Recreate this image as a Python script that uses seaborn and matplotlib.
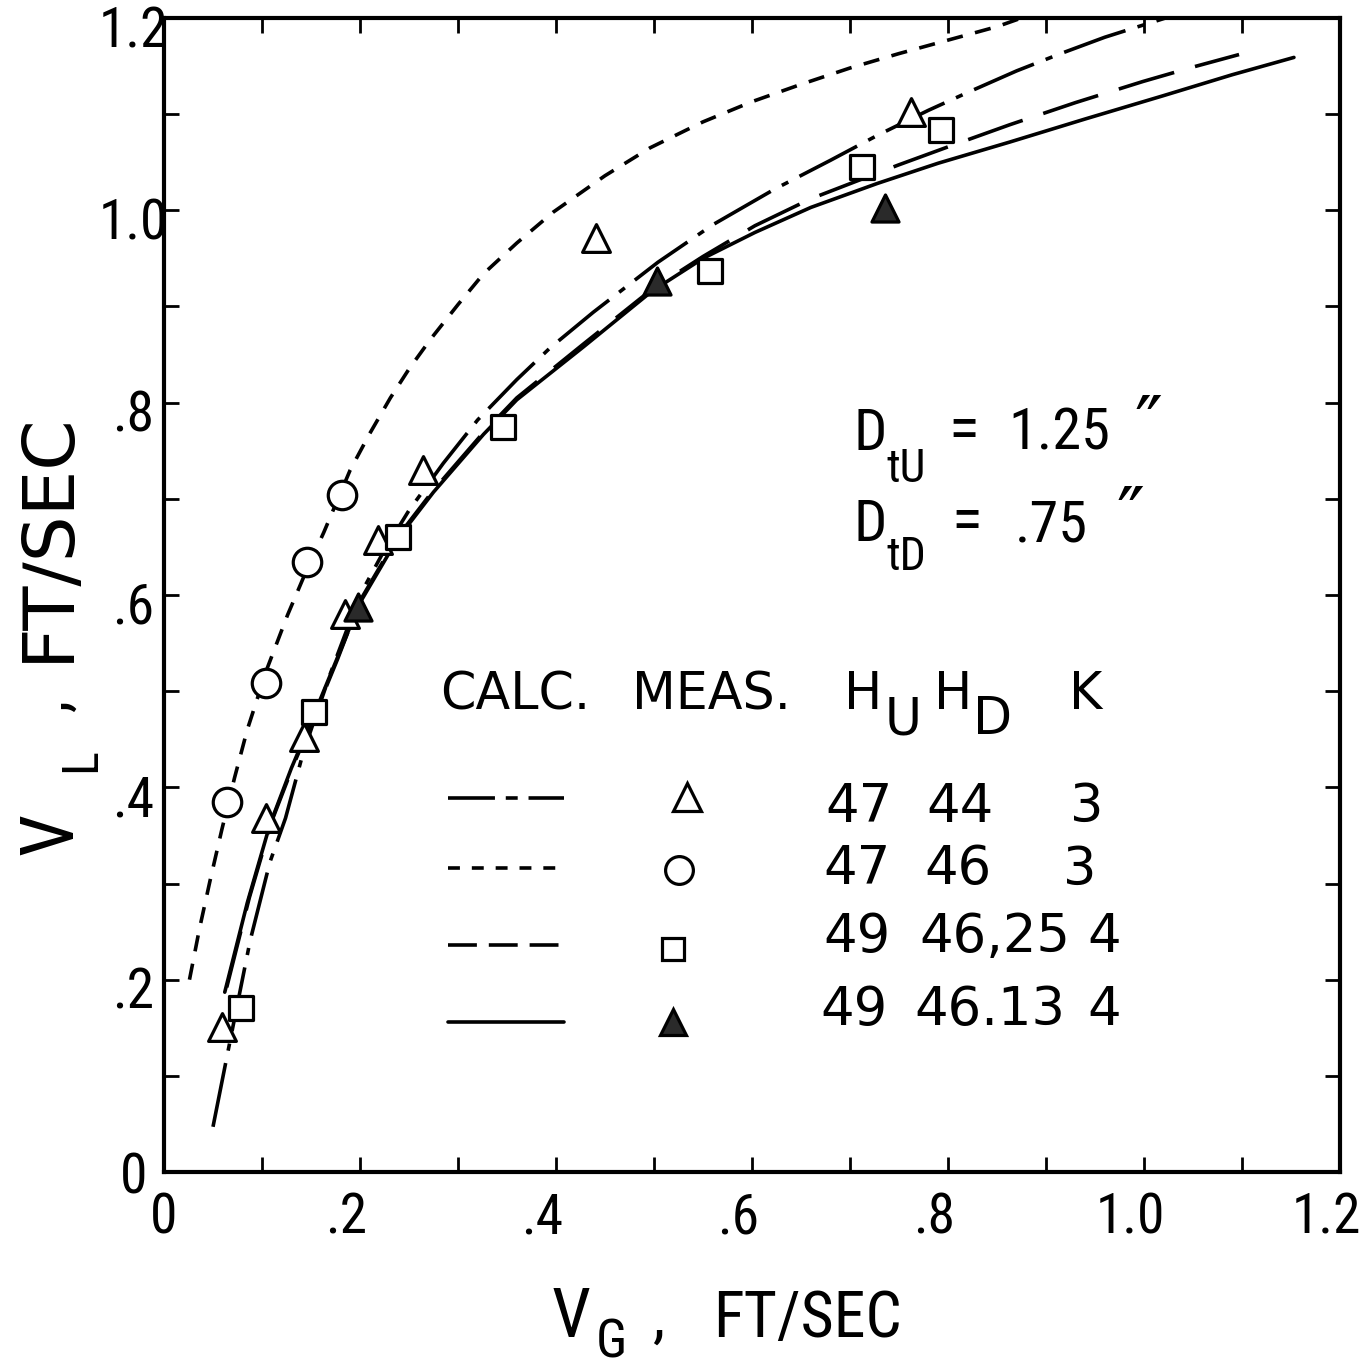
import matplotlib
matplotlib.use("Agg")
import matplotlib.pyplot as plt
from matplotlib.ticker import FixedLocator, FixedFormatter
from matplotlib.transforms import ScaledTranslation
import pandas as pd
import seaborn as sns

# ---- calculated curves: V_G (ft/sec) vs V_L (ft/sec) ----
calc1_vg = [0.050, 0.065, 0.088, 0.108, 0.124, 0.142, 0.170, 0.200, 0.224, 0.250, 0.285,
            0.320, 0.360, 0.394, 0.438, 0.504, 0.560, 0.623, 0.680, 0.728, 0.780, 0.821,
            0.870, 0.915, 0.960, 0.994, 1.022]
calc1_vl = [0.047, 0.124, 0.241, 0.322, 0.368, 0.436, 0.519, 0.600, 0.645, 0.688, 0.737,
            0.782, 0.824, 0.857, 0.894, 0.946, 0.985, 1.022, 1.052, 1.078, 1.104, 1.123,
            1.145, 1.163, 1.180, 1.191, 1.200]

calc2_vg = [0.026, 0.036, 0.047, 0.059, 0.072, 0.085, 0.105, 0.126, 0.146, 0.163, 0.190,
            0.210, 0.231, 0.250, 0.272, 0.300, 0.326, 0.360, 0.397, 0.450, 0.496, 0.550,
            0.600, 0.650, 0.700, 0.750, 0.800, 0.850, 0.875]
calc2_vl = [0.200, 0.252, 0.303, 0.356, 0.410, 0.460, 0.523, 0.579, 0.627, 0.665, 0.730,
            0.768, 0.805, 0.835, 0.866, 0.902, 0.934, 0.966, 0.998, 1.036, 1.065, 1.092,
            1.113, 1.131, 1.148, 1.163, 1.177, 1.191, 1.200]

calc3_vg = [0.064, 0.087, 0.110, 0.132, 0.152, 0.177, 0.200, 0.238, 0.275, 0.326, 0.360,
            0.428, 0.498, 0.550, 0.603, 0.660, 0.749, 0.800, 0.863, 0.930, 0.999, 1.050, 1.097]
calc3_vl = [0.192, 0.285, 0.365, 0.423, 0.471, 0.533, 0.594, 0.660, 0.709, 0.769, 0.805,
            0.861, 0.918, 0.952, 0.984, 1.012, 1.047, 1.066, 1.089, 1.112, 1.134, 1.149, 1.162]

calc4_vg = [0.062, 0.085, 0.108, 0.130, 0.150, 0.175, 0.200, 0.238, 0.275, 0.326, 0.360,
            0.428, 0.498, 0.550, 0.603, 0.660, 0.728, 0.790, 0.863, 0.940, 1.019, 1.090, 1.153]
calc4_vl = [0.187, 0.280, 0.361, 0.420, 0.468, 0.530, 0.592, 0.658, 0.707, 0.767, 0.803,
            0.858, 0.916, 0.950, 0.977, 1.003, 1.028, 1.049, 1.071, 1.095, 1.119, 1.141, 1.159]

# ---- measured points ----
meas1_vg = [0.059, 0.104, 0.143, 0.185, 0.218, 0.264, 0.441, 0.762]
meas1_vl = [0.151, 0.368, 0.452, 0.580, 0.657, 0.730, 0.971, 1.102]
meas2_vg = [0.064, 0.104, 0.146, 0.182]
meas2_vl = [0.385, 0.509, 0.634, 0.704]
meas3_vg = [0.079, 0.153, 0.239, 0.346, 0.557, 0.712, 0.793]
meas3_vl = [0.171, 0.478, 0.660, 0.775, 0.937, 1.045, 1.084]
meas4_vg = [0.198, 0.503, 0.736]
meas4_vl = [0.588, 0.926, 1.002]

# ---- run parameters shown in the key ----
h_up = ["47", "47", "49", "49"]
h_down = ["44", "46", "46,25", "46.13"]
k_vals = ["3", "3", "4", "4"]

tick_vals = [0.0, 0.2, 0.4, 0.6, 0.8, 1.0, 1.2]
tick_labels = ["0", ".2", ".4", ".6", ".8", "1.0", "1.2"]
minor_vals = [0.1, 0.3, 0.5, 0.7, 0.9, 1.1]

sns.set_theme(style="ticks")
NARROW = ["Roboto Condensed", "Liberation Sans Narrow", "Liberation Sans", "DejaVu Sans"]
WIDE = ["DejaVu Sans"]
plt.rcParams["font.family"] = NARROW
plt.rcParams["axes.linewidth"] = 3.0
for key in ("text.color", "axes.labelcolor", "xtick.color", "ytick.color", "axes.edgecolor"):
    plt.rcParams[key] = "black"

W, H = 1361, 1367
fig = plt.figure(figsize=(W / 100, H / 100), dpi=100)
fig.patch.set_facecolor("white")
ax = fig.add_axes([164 / W, 1 - 1172 / H, 1176 / W, 1154 / H])
ax.set_facecolor("white")
ax.set_xlim(0, 1.2)
ax.set_ylim(0, 1.2)

LW = 2.6
styles = [
    (calc1_vg, calc1_vl, (0, (18, 3.5, 2, 3.5))),
    (calc2_vg, calc2_vl, (0, (4.5, 3.5))),
    (calc3_vg, calc3_vl, (0, (16, 6))),
    (calc4_vg, calc4_vl, "-"),
]
for xs, ys, ls in styles:
    df = pd.DataFrame({"vg": xs, "vl": ys})
    sns.lineplot(data=df, x="vg", y="vl", ax=ax, color="black", lw=LW,
                 linestyle=ls, sort=False, estimator=None, zorder=2)

marker_specs = [
    (meas1_vg, meas1_vl, "^", 400, "white"),
    (meas2_vg, meas2_vl, "o", 420, "white"),
    (meas3_vg, meas3_vl, "s", 300, "white"),
    (meas4_vg, meas4_vl, "^", 380, "#2a2a2a"),
]
for xs, ys, mk, s, fc in marker_specs:
    df = pd.DataFrame({"vg": xs, "vl": ys})
    sns.scatterplot(data=df, x="vg", y="vl", ax=ax, marker=mk, s=s, color=fc,
                    edgecolor="black", linewidth=2.3, zorder=4)

# ---- axes, ticks ----
ax.xaxis.set_major_locator(FixedLocator(tick_vals))
ax.xaxis.set_major_formatter(FixedFormatter(tick_labels))
ax.yaxis.set_major_locator(FixedLocator(tick_vals))
ax.yaxis.set_major_formatter(FixedFormatter(tick_labels))
ax.xaxis.set_minor_locator(FixedLocator(minor_vals))
ax.yaxis.set_minor_locator(FixedLocator(minor_vals))
ax.tick_params(which="both", direction="in", length=11, width=2.0, color="black",
               top=True, right=True)
ax.tick_params(axis="x", which="major", labelsize=40, pad=14, labelcolor="black")
ax.tick_params(axis="y", which="major", labelsize=40, pad=22, labelcolor="black")
x_shift = ScaledTranslation(-14 / 100, 0, fig.dpi_scale_trans)
y_shift = ScaledTranslation(0, -8 / 100, fig.dpi_scale_trans)
for lbl in ax.get_xticklabels()[1:]:
    lbl.set_transform(lbl.get_transform() + x_shift)
for lbl in ax.get_yticklabels():
    lbl.set_horizontalalignment("center")
for lbl in ax.get_yticklabels()[1:]:
    lbl.set_transform(lbl.get_transform() + y_shift)
for sp in ax.spines.values():
    sp.set_visible(True)
    sp.set_color("black")
    sp.set_linewidth(3.0)
ax.set_xlabel("")
ax.set_ylabel("")

# ---- axis titles ----
fig.text(552 / W, 1 - 1337 / H, "V", fontsize=50, ha="left", va="baseline")
fig.text(596 / W, 1 - 1357 / H, "G", fontsize=38, ha="left", va="baseline")
fig.text(652 / W, 1 - 1337 / H, ",", fontsize=44, ha="left", va="baseline")
fig.text(713 / W, 1 - 1337 / H, "FT/SEC", fontsize=46, ha="left", va="baseline")

fig.text(72 / W, 1 - 855 / H, "V", fontsize=54, rotation=90,
         rotation_mode="anchor", ha="left", va="baseline")
fig.text(95 / W, 1 - 772 / H, "L", fontsize=36, rotation=90,
         rotation_mode="anchor", ha="left", va="baseline")
fig.text(68 / W, 1 - 712 / H, ",", fontsize=44, rotation=90,
         rotation_mode="anchor", ha="left", va="baseline")
fig.text(68 / W, 1 - 662 / H, "FT/SEC", fontsize=52, family=WIDE, rotation=90,
         rotation_mode="anchor", ha="left", va="baseline")

# ---- tube diameters ----
dkw = dict(ha="left", va="baseline", color="black")
ax.text(0.704, 0.751, "D", fontsize=42, **dkw)
ax.text(0.737, 0.717, "tU", fontsize=33, **dkw)
ax.text(0.800, 0.751, "=", fontsize=46, **dkw)
ax.text(0.862, 0.751, "1.25", fontsize=42, **dkw)
ax.text(0.990, 0.751, "\u2033", fontsize=54, family=WIDE, ha="left", va="baseline")
ax.text(0.704, 0.656, "D", fontsize=42, **dkw)
ax.text(0.737, 0.626, "tD", fontsize=33, **dkw)
ax.text(0.803, 0.656, "=", fontsize=46, **dkw)
ax.text(0.868, 0.656, ".75", fontsize=42, **dkw)
ax.text(0.972, 0.656, "\u2033", fontsize=54, family=WIDE, ha="left", va="baseline")

# ---- key table ----
tkw = dict(family=WIDE, ha="left", va="baseline", color="black")
ax.text(0.282, 0.481, "CALC.", fontsize=36.5, **tkw)
ax.text(0.478, 0.481, "MEAS.", fontsize=36.5, **tkw)
ax.text(0.694, 0.481, "H", fontsize=36.5, **tkw)
ax.text(0.735, 0.455, "U", fontsize=36.5, **tkw)
ax.text(0.786, 0.481, "H", fontsize=36.5, **tkw)
ax.text(0.826, 0.455, "D", fontsize=36.5, **tkw)
ax.text(0.923, 0.481, "K", fontsize=36.5, **tkw)

row_base = [0.364, 0.299, 0.229, 0.153]
row_hu_x = [0.675, 0.673, 0.673, 0.670]
row_hd_x = [0.778, 0.776, 0.771, 0.766]
row_k_x = [0.924, 0.917, 0.942, 0.942]
for i in range(4):
    ax.text(row_hu_x[i], row_base[i], h_up[i], fontsize=38, **tkw)
    ax.text(row_hd_x[i], row_base[i], h_down[i], fontsize=38, **tkw)
    ax.text(row_k_x[i], row_base[i], k_vals[i], fontsize=38, **tkw)

key_line_y = [0.389, 0.316, 0.236, 0.156]
key_ls = [(0, (13, 3, 3.3, 3)), (0, (3.3, 3.3)), (0, (8, 3.3)), "-"]
key_mark = [("^", "white", 20), ("o", "white", 20), ("s", "white", 16), ("^", "#2a2a2a", 19)]
key_mark_xy = [(0.534, 0.390), (0.526, 0.314), (0.519, 0.232), (0.519, 0.156)]
for i in range(4):
    ax.plot([0.290, 0.408], [key_line_y[i]] * 2, color="black", lw=LW, linestyle=key_ls[i])
    mk, fc, ms = key_mark[i]
    ax.plot([key_mark_xy[i][0]], [key_mark_xy[i][1]], marker=mk, ms=ms, mfc=fc,
            mec="black", mew=2.3, linestyle="none")

fig.savefig("out.png", dpi=100, facecolor="white")
